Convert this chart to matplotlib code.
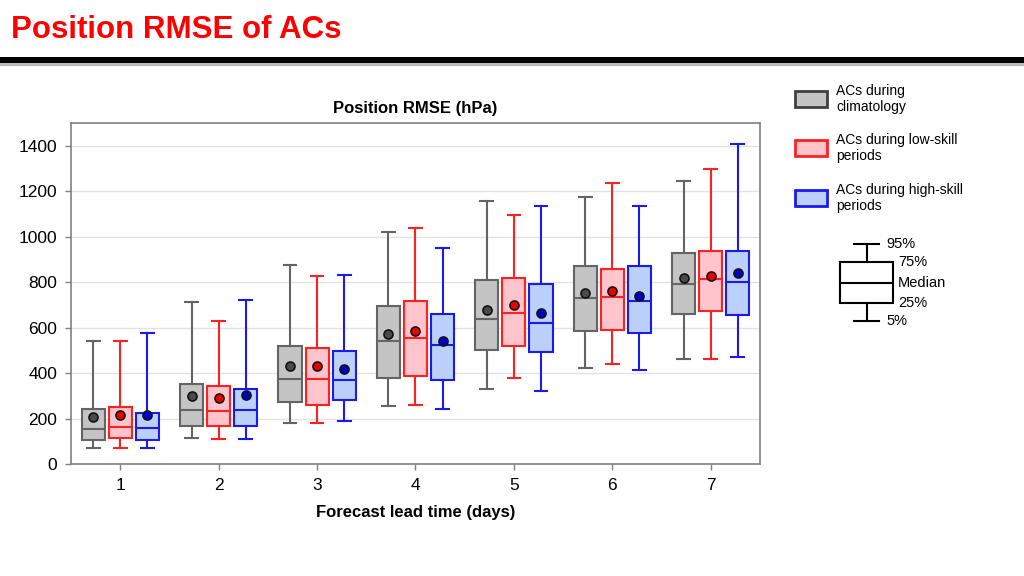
import matplotlib
matplotlib.use("Agg")
import matplotlib.pyplot as plt
from matplotlib.patches import Rectangle
from matplotlib.lines import Line2D

plt.rcParams['font.family'] = ['Liberation Sans', 'DejaVu Sans']

# ---- data ----
days = [1, 2, 3, 4, 5, 6, 7]
groups = ["ACs during\nclimatology", "ACs during low-skill\nperiods", "ACs during high-skill\nperiods"]

# each: p5, p25, median, p75, p95, mean
clim_p5 = [69, 116, 182, 255, 329, 423, 462]
clim_p25 = [106, 167, 272, 380, 502, 587, 660]
clim_med = [156, 236, 374, 539, 637, 729, 791]
clim_p75 = [242, 352, 521, 694, 809, 870, 928]
clim_p95 = [541, 713, 876, 1020, 1158, 1173, 1246]
clim_mean = [208, 299, 430, 574, 679, 753, 820]

low_p5 = [72, 109, 179, 260, 377, 440, 462]
low_p25 = [113, 166, 258, 385, 521, 591, 672]
low_med = [164, 232, 373, 556, 666, 735, 815]
low_p75 = [250, 342, 509, 716, 816, 859, 938]
low_p95 = [541, 630, 828, 1040, 1096, 1237, 1298]
low_mean = [216, 289, 431, 584, 700, 762, 829]

high_p5 = [69, 109, 189, 242, 321, 414, 472]
high_p25 = [106, 169, 280, 371, 494, 575, 655]
high_med = [160, 239, 371, 522, 621, 718, 800]
high_p75 = [224, 332, 496, 659, 790, 872, 939]
high_p95 = [578, 722, 830, 950, 1136, 1133, 1407]
high_mean = [217, 304, 420, 539, 665, 738, 841]

series = [
    (clim_p5, clim_p25, clim_med, clim_p75, clim_p95, clim_mean),
    (low_p5, low_p25, low_med, low_p75, low_p95, low_mean),
    (high_p5, high_p25, high_med, high_p75, high_p95, high_mean),
]
edge_colors = ["#646464", "#ff2020", "#1a1aee"]
face_colors = ["#c4c4c4", "#ffc4cc", "#bcd0fc"]
mean_colors = ["#4a4a4a", "#ee0000", "#0000cc"]
offsets = [-0.275, 0.0, 0.275]

W, H = 1024, 576
fig = plt.figure(figsize=(W / 100, H / 100), dpi=100)

def fx(px):
    return px / W

def fy(py):
    return 1 - py / H

# ---- header ----
fig.text(fx(11), fy(30), "Position RMSE of ACs", color="#ff0000", fontsize=22.5,
         fontweight="bold", va="center", ha="left")
fig.add_artist(Line2D([0, 1], [fy(64), fy(64)], color="#bbbbbb", lw=3, transform=fig.transFigure))
fig.add_artist(Line2D([0, 1], [fy(60), fy(60)], color="#000000", lw=4.3, transform=fig.transFigure))

# ---- main axes ----
ax = fig.add_axes([fx(71), fy(464), fx(760) - fx(71), fy(123) - fy(464)])
for gi, (p5, p25, med, p75, p95, mean) in enumerate(series):
    stats = []
    for i in range(len(days)):
        stats.append(dict(whislo=p5[i], q1=p25[i], med=med[i], q3=p75[i],
                          whishi=p95[i], mean=mean[i], fliers=[]))
    pos = [d + offsets[gi] for d in days]
    ec = edge_colors[gi]
    ax.bxp(stats, positions=pos, widths=0.235, patch_artist=True, showmeans=True,
           showfliers=False, manage_ticks=False,
           boxprops=dict(facecolor=face_colors[gi], edgecolor=ec, linewidth=1.5),
           whiskerprops=dict(color=ec, linewidth=1.5),
           capprops=dict(color=ec, linewidth=1.5),
           medianprops=dict(color=ec, linewidth=1.5),
           meanprops=dict(marker="o", markerfacecolor=mean_colors[gi],
                          markeredgecolor="#111111", markersize=6.5, markeredgewidth=1.2),
           capwidths=0.13, zorder=3)

ax.set_xlim(0.5, 7.5)
ax.set_ylim(0, 1500)
ax.set_xticks(days)
ax.set_xticklabels([str(d) for d in days])
ax.set_yticks(range(0, 1401, 200))
ax.yaxis.grid(True, color="#e2e2e2", linewidth=1.0, zorder=0)
ax.set_axisbelow(True)
for s in ax.spines.values():
    s.set_color("#808080")
    s.set_linewidth(1.2)
ax.tick_params(axis="both", colors="#808080", labelcolor="#000000", labelsize=12.5,
               length=4, width=1.0)
ax.tick_params(axis="y", pad=6)
ax.tick_params(axis="x", pad=6)
ax.set_title("Position RMSE (hPa)", fontsize=12, fontweight="bold", pad=7)
ax.set_xlabel("Forecast lead time (days)", fontsize=12, fontweight="bold", labelpad=9)

# ---- legend ----
leg_y = [99, 148, 198]
for gi in range(3):
    y = leg_y[gi]
    fig.add_artist(Rectangle((fx(795), fy(y + 8)), fx(827) - fx(795), fy(y - 8) - fy(y + 8),
                             facecolor=face_colors[gi], edgecolor=edge_colors[gi] if gi else "#404040",
                             linewidth=2, transform=fig.transFigure))
    fig.text(fx(836), fy(y), groups[gi], fontsize=10, va="center", ha="left", linespacing=1.25)

# ---- box key ----
kx0, kx1, kc = 840, 893, 866.5
kax = fig.add_axes([0, 0, 1, 1], facecolor="none")
kax.set_xlim(0, W)
kax.set_ylim(H, 0)
kax.axis("off")
kax.add_patch(Rectangle((kx0, 262), kx1 - kx0, 41, facecolor="white", edgecolor="black", lw=1.5))
kax.plot([kx0, kx1], [283, 283], color="black", lw=1.5)
kax.plot([kc, kc], [244, 262], color="black", lw=1.5)
kax.plot([kc, kc], [303, 321], color="black", lw=1.5)
kax.plot([854, 879], [244, 244], color="black", lw=1.5)
kax.plot([854, 879], [321, 321], color="black", lw=1.5)
for txt, x, y in [("95%", 886, 244), ("75%", 898, 262), ("Median", 898, 283),
                  ("25%", 898, 303), ("5%", 886, 321)]:
    kax.text(x, y, txt, fontsize=10.5, va="center", ha="left")

fig.savefig("out.png", dpi=100)
